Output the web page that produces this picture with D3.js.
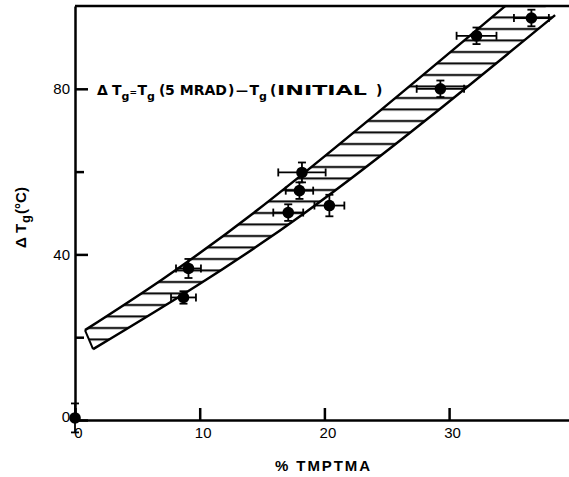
<!DOCTYPE html>
<html>
<head>
<meta charset="utf-8">
<script src="https://cdn.jsdelivr.net/npm/d3@7/dist/d3.min.js"></script>
<style>
  body { margin: 0; background: #fff; }
  svg { display: block; }
  text { font-family: "Liberation Sans", Arial, sans-serif; fill: #000; }
</style>
</head>
<body>
<script>
// Define SVG area dimensions
var svgWidth = 569;
var svgHeight = 477;

// data: % TMPTMA vs delta Tg
var tmptma = [0, 8.7, 9.1, 17.1, 18.0, 18.2, 20.4, 29.3, 32.2, 36.6];
var deltaTg = [0.5, 29.6, 36.6, 50.1, 55.4, 59.8, 51.8, 80.0, 92.8, 97.1];
var xErr = [0, 1.0, 1.0, 1.2, 1.1, 1.9, 1.2, 1.9, 1.6, 1.4];
var yErr = [3.5, 1.5, 2.3, 2.0, 2.0, 2.4, 2.6, 2.0, 2.0, 2.0];

// hatched band edges (x, y), drawn slightly bowed as in the figure
var bandUpper = [[0.8, 21.7], [14.4, 50.2], [34.5, 100]];
var bandLower = [[1.45, 17.1], [18.5, 50.2], [38.5, 97.8]];
var bandTopEnd = [37.6, 100];

var xTicks = [0, 10, 20, 30];
var yTicks = [0, 40, 80];
var yMinorTicks = [20, 60];

var svg = d3.select("body")
  .append("svg")
  .attr("width", svgWidth)
  .attr("height", svgHeight);

var x = d3.scaleLinear().domain([0, 40]).range([75, 75 + 40 * 12.47]);
var y = d3.scaleLinear().domain([0, 100]).range([420, 6]);

// hatch pattern
var defs = svg.append("defs");
var pat = defs.append("pattern")
  .attr("id", "hatch")
  .attr("patternUnits", "userSpaceOnUse")
  .attr("width", 20)
  .attr("height", 11.5);
pat.append("rect").attr("width", 20).attr("height", 11.5).attr("fill", "#fff");
pat.append("line")
  .attr("x1", 0).attr("x2", 20)
  .attr("y1", 6).attr("y2", 6)
  .attr("stroke", "#000")
  .attr("stroke-width", 2);

var edge = d3.line().x(d => x(d[0])).y(d => y(d[1])).curve(d3.curveNatural);

var upperD = edge(bandUpper);
var lowerRev = edge(bandLower.slice().reverse());
var bandD = upperD
  + "L" + x(bandTopEnd[0]) + "," + y(bandTopEnd[1])
  + "L" + lowerRev.substring(1) + "Z";

svg.append("path")
  .attr("d", bandD)
  .attr("fill", "url(#hatch)")
  .attr("stroke", "none");

[bandUpper, bandLower].forEach(function(e) {
  svg.append("path")
    .attr("d", edge(e))
    .attr("fill", "none")
    .attr("stroke", "#000")
    .attr("stroke-width", 2.5);
});
// closing edge at lower left
svg.append("line")
  .attr("x1", x(bandUpper[0][0])).attr("y1", y(bandUpper[0][1]))
  .attr("x2", x(bandLower[0][0])).attr("y2", y(bandLower[0][1]))
  .attr("stroke", "#000").attr("stroke-width", 2);

// axes
var xAxis = d3.axisBottom(x).tickValues(xTicks).tickSizeInner(-12).tickSizeOuter(0).tickPadding(7);
var gx = svg.append("g")
  .attr("transform", `translate(0, ${y(0)})`)
  .call(xAxis);

var yAxis = d3.axisLeft(y).tickValues(yTicks).tickSizeInner(-13).tickSizeOuter(0).tickPadding(5);
var gy = svg.append("g")
  .attr("transform", `translate(${x(0)}, 0)`)
  .call(yAxis);

var yMinor = d3.axisLeft(y).tickValues(yMinorTicks).tickSizeInner(-9).tickSizeOuter(0).tickFormat("");
var gym = svg.append("g")
  .attr("transform", `translate(${x(0)}, 0)`)
  .call(yMinor);
gym.select(".domain").remove();

[gx, gy, gym].forEach(function(g) {
  g.selectAll("path, line").attr("stroke", "#000").attr("stroke-width", 2.5);
  g.selectAll("text").style("font-size", "15px").style("font-family", "'Liberation Sans', Arial, sans-serif");
});
gx.selectAll(".tick text").attr("dx", 3);
gy.selectAll(".tick text").attr("dy", "0.32em");
gy.selectAll(".tick").filter(d => d === 0).select("text").attr("dy", "0.1em").attr("x", -5);

// top frame line
svg.append("line")
  .attr("x1", x(0)).attr("x2", svgWidth)
  .attr("y1", y(100)).attr("y2", y(100))
  .attr("stroke", "#000").attr("stroke-width", 2.5);

// error bars
var pts = tmptma.map((v, i) => ({x: v, y: deltaTg[i], ex: xErr[i], ey: yErr[i]}));
var cap = 4;
var eb = svg.append("g").attr("stroke", "#000").attr("stroke-width", 1.8);
pts.forEach(function(d) {
  if (d.ex > 0) {
    eb.append("line").attr("x1", x(d.x - d.ex)).attr("x2", x(d.x + d.ex)).attr("y1", y(d.y)).attr("y2", y(d.y));
    eb.append("line").attr("x1", x(d.x - d.ex)).attr("x2", x(d.x - d.ex)).attr("y1", y(d.y) - cap).attr("y2", y(d.y) + cap);
    eb.append("line").attr("x1", x(d.x + d.ex)).attr("x2", x(d.x + d.ex)).attr("y1", y(d.y) - cap).attr("y2", y(d.y) + cap);
  }
  if (d.ey > 0) {
    eb.append("line").attr("x1", x(d.x)).attr("x2", x(d.x)).attr("y1", y(d.y - d.ey)).attr("y2", y(d.y + d.ey));
    eb.append("line").attr("x1", x(d.x) - cap).attr("x2", x(d.x) + cap).attr("y1", y(d.y + d.ey)).attr("y2", y(d.y + d.ey));
    eb.append("line").attr("x1", x(d.x) - cap).attr("x2", x(d.x) + cap).attr("y1", y(d.y - d.ey)).attr("y2", y(d.y - d.ey));
  }
});

svg.append("g").selectAll("circle")
  .data(pts)
  .enter()
  .append("circle")
  .attr("cx", d => x(d.x))
  .attr("cy", d => y(d.y))
  .attr("r", 5.8)
  .attr("fill", "#000");

// annotation, placed piece by piece to get the wide lettering
var annY = 95;
var ann = svg.append("g").style("font-weight", "bold");
function piece(t, px, sub, len, size) {
  var el = ann.append("text")
    .attr("x", px)
    .attr("y", sub ? annY + 5 : annY)
    .style("font-family", "'DejaVu Sans', sans-serif")
    .style("font-size", (size || (sub ? 11 : 14)) + "px")
    .text(t);
  if (len) el.attr("textLength", len).attr("lengthAdjust", "spacingAndGlyphs");
  return el;
}
piece("\u0394", 97);
piece("T", 112);
piece("g", 121.5, true);
piece("=", 129.5, false, 0, 9);
piece("T", 137.5);
piece("g", 147, true);
piece("(", 159);
piece("5 MRAD", 165, false, 62);
piece(")", 228);
piece("\u2014", 236, false, 0, 12);
piece("T", 249.5);
piece("g", 259, true);
piece("(", 270);
piece("INITIAL", 277, false, 90);
piece(")", 376);

// axis titles
svg.append("text")
  .attr("x", 275).attr("y", 471)
  .attr("textLength", 95).attr("lengthAdjust", "spacing")
  .style("font-size", "15px").style("font-weight", "bold")
  .text("% TMPTMA");

var yt = svg.append("text")
  .attr("transform", "translate(26, 248) rotate(-90)")
  .style("font-size", "15px").style("font-weight", "bold");
yt.append("tspan").text("\u0394 T");
yt.append("tspan").attr("dy", 4).attr("dx", 1).style("font-size", "13px").text("g");
yt.append("tspan").attr("dy", -4).attr("dx", 1).text("(\u00B0C)");
</script>
</body>
</html>
